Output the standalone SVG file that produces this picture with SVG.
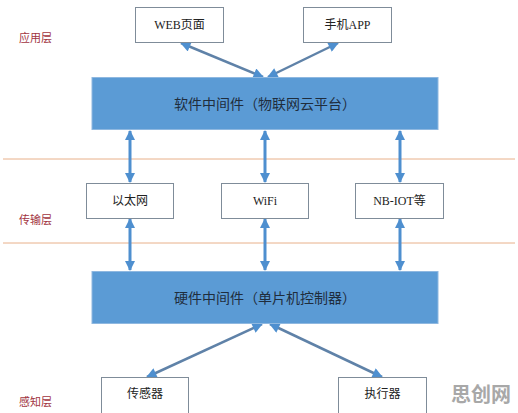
<svg xmlns="http://www.w3.org/2000/svg" width="518" height="413" viewBox="0 0 518 413">
<defs>
<style>
.box{fill:#fff;stroke:#7f8c99;stroke-width:1}
.big{fill:#5b9bd5;stroke:#8fb8e0;stroke-width:1}
.t{font-family:"Liberation Serif","Noto Sans CJK SC",serif;font-size:12px;fill:#222;text-anchor:middle;dominant-baseline:central}
.tb{font-family:"Noto Sans CJK SC","Liberation Sans",sans-serif;font-size:14px;fill:#1f2d3d;text-anchor:middle;dominant-baseline:central}
.lay{font-family:"Noto Sans CJK SC",sans-serif;font-size:11px;fill:#a2353f;dominant-baseline:central}
.sep{stroke:#e8b08a;stroke-width:1}
.v{stroke:#4e8fcf;stroke-width:3;marker-start:url(#a);marker-end:url(#a)}
.d{stroke:#5f82a8;stroke-width:2.5;marker-start:url(#a2);marker-end:url(#a2)}
</style>
<marker id="a" viewBox="0 0 10 10" refX="9" refY="5" markerWidth="3.6" markerHeight="3.4" markerUnits="strokeWidth" orient="auto-start-reverse"><path d="M0,0L10,5L0,10z" fill="#4e8fcf"/></marker>
<marker id="a2" viewBox="0 0 10 10" refX="9" refY="5" markerWidth="5" markerHeight="4.2" markerUnits="strokeWidth" orient="auto-start-reverse"><path d="M0,0L10,5L0,10z" fill="#4e8fcf"/></marker>
</defs>
<rect width="518" height="413" fill="#fff"/>
<g id="separators">
<line class="sep" x1="3" y1="159" x2="515" y2="159"/>
<line class="sep" x1="3" y1="243" x2="515" y2="243"/>
</g>
<g id="layer-labels">
<text class="lay" x="19" y="37">应用层</text>
<text class="lay" x="19" y="219">传输层</text>
<text class="lay" x="19" y="401">感知层</text>
</g>
<g id="connectors">
<line class="v" x1="130" y1="131" x2="130" y2="182"/>
<line class="v" x1="265" y1="131" x2="265" y2="182"/>
<line class="v" x1="400" y1="131" x2="400" y2="182"/>
<line class="v" x1="130" y1="219" x2="130" y2="270"/>
<line class="v" x1="265" y1="219" x2="265" y2="270"/>
<line class="v" x1="400" y1="219" x2="400" y2="270"/>
<line class="d" x1="181" y1="43" x2="263" y2="77"/>
<line class="d" x1="338" y1="43" x2="268" y2="77"/>
<line class="d" x1="262" y1="324" x2="147" y2="377"/>
<line class="d" x1="270" y1="324" x2="382" y2="377"/>
</g>
<g id="web"><rect class="box" x="135.5" y="7.5" width="88" height="35"/><text class="t" x="179.5" y="25">WEB页面</text></g>
<g id="app"><rect class="box" x="303.5" y="7.5" width="88" height="35"/><text class="t" x="347.5" y="25">手机APP</text></g>
<g id="software"><rect class="big" x="92" y="77.5" width="346" height="52"/><text class="tb" x="265" y="103">软件中间件（物联网云平台）</text></g>
<g id="ethernet"><rect class="box" x="86.5" y="183.5" width="87" height="35"/><text class="t" x="130" y="201">以太网</text></g>
<g id="wifi"><rect class="box" x="221.5" y="183.5" width="87" height="35"/><text class="t" x="265" y="201">WiFi</text></g>
<g id="nbiot"><rect class="box" x="355.5" y="183.5" width="88" height="35"/><text class="t" x="399.5" y="201">NB-IOT等</text></g>
<g id="hardware"><rect class="big" x="92" y="271.5" width="346" height="52"/><text class="tb" x="265" y="297">硬件中间件（单片机控制器）</text></g>
<g id="sensor"><rect class="box" x="101.5" y="377.5" width="87" height="40"/><text class="t" x="145" y="394">传感器</text></g>
<g id="actuator"><rect class="box" x="338.5" y="377.5" width="88" height="40"/><text class="t" x="382.5" y="394">执行器</text></g>
<text x="481" y="393" font-family="Noto Sans CJK SC,sans-serif" font-size="20" font-weight="bold" fill="#a8a8a8" text-anchor="middle" dominant-baseline="central">思创网</text>
</svg>
